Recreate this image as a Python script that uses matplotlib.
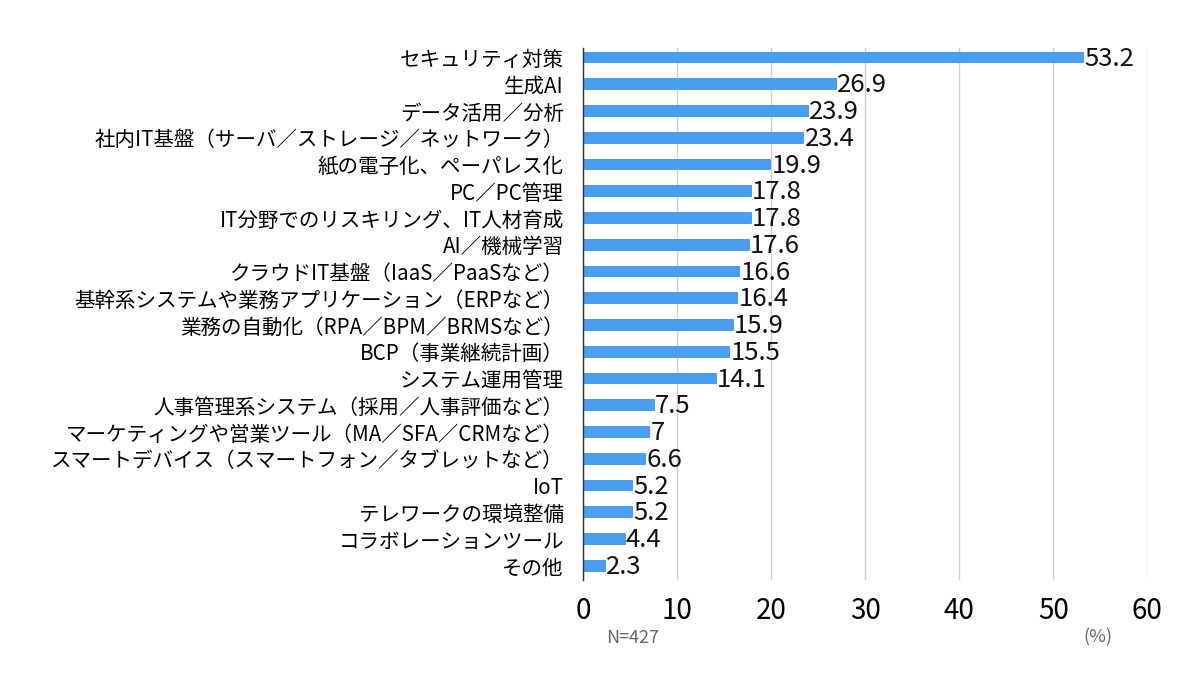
import matplotlib.pyplot as plt
import numpy as np

plt.rcParams['font.family'] = ['Noto Sans CJK JP', 'DejaVu Sans']

categories = [
    "セキュリティ対策",
    "生成AI",
    "データ活用／分析",
    "社内IT基盤（サーバ／ストレージ／ネットワーク）",
    "紙の電子化、ペーパレス化",
    "PC／PC管理",
    "IT分野でのリスキリング、IT人材育成",
    "AI／機械学習",
    "クラウドIT基盤（IaaS／PaaSなど）",
    "基幹系システムや業務アプリケーション（ERPなど）",
    "業務の自動化（RPA／BPM／BRMSなど）",
    "BCP（事業継続計画）",
    "システム運用管理",
    "人事管理系システム（採用／人事評価など）",
    "マーケティングや営業ツール（MA／SFA／CRMなど）",
    "スマートデバイス（スマートフォン／タブレットなど）",
    "IoT",
    "テレワークの環境整備",
    "コラボレーションツール",
    "その他",
]
values = [53.2, 26.9, 23.9, 23.4, 19.9, 17.8, 17.8, 17.6, 16.6, 16.4,
          15.9, 15.5, 14.1, 7.5, 7, 6.6, 5.2, 5.2, 4.4, 2.3]
value_labels = ["53.2", "26.9", "23.9", "23.4", "19.9", "17.8", "17.8", "17.6", "16.6", "16.4",
                "15.9", "15.5", "14.1", "7.5", "7", "6.6", "5.2", "5.2", "4.4", "2.3"]
xticks = [0, 10, 20, 30, 40, 50, 60]

bar_color = "#4A9EF0"

fig = plt.figure(figsize=(12, 6.78), dpi=100)
ax = fig.add_axes([0.486, 0.145, 0.47, 0.784])

y = np.arange(len(categories))
ax.barh(y, values, height=0.36, color=bar_color, edgecolor=bar_color,
        linewidth=1.5, joinstyle='round', zorder=3)

for yi, v, lab in zip(y, values, value_labels):
    ax.text(v + 0.15, yi + 0.04, lab, va='center', ha='left', fontsize=18.5,
            color='#111111', zorder=4)

ax.set_xlim(0, 60)
ax.set_ylim(19.52, -0.35)
ax.set_xticks(xticks)
ax.set_xticklabels([str(t) for t in xticks], fontsize=20)
ax.set_yticks(y)
ax.set_yticklabels(categories, fontsize=14.8)
ax.tick_params(axis='both', length=0)
ax.tick_params(axis='x', pad=12)
ax.tick_params(axis='y', pad=14)

ax.grid(axis='x', color='#d0d0d0', linewidth=1, zorder=0)
for side in ['top', 'right', 'bottom']:
    ax.spines[side].set_visible(False)
ax.spines['left'].set_color('#333333')
ax.spines['left'].set_linewidth(1)
ax.spines['left'].set_zorder(5)

fig.text(0.527, 0.052, "N=427", fontsize=13, color='#666666', ha='center')
fig.text(0.915, 0.052, "(%)", fontsize=13, color='#666666', ha='center')

fig.savefig("out.png", dpi=100)
